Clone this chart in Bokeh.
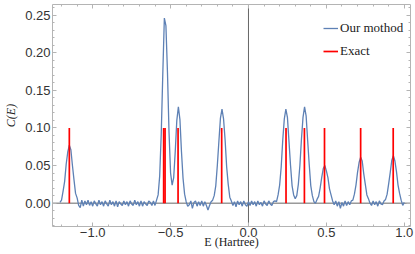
from bokeh.plotting import figure
from bokeh.models import (Range1d, LinearAxis, SingleIntervalTicker, CustomJSTickFormatter,
                          CustomLabelingPolicy, Span, Legend, LegendItem, ColumnDataSource)
from bokeh.embed import file_html
from bokeh.resources import INLINE

# ---- data ----
E_start = -1.21
E_step = 0.01
C_method = [
    0.001, 0.004, 0.016, 0.029, 0.052, 0.068, 0.077, 0.071, 0.050, 0.031,
    0.013, 0.007, -0.003, -0.006, 0.004, -0.004, 0.003, -0.002, 0.004, -0.003,
    0.002, -0.004, 0.003, -0.001, -0.004, 0.004, -0.002, 0.002, -0.004, 0.003,
    -0.001, -0.004, 0.004, -0.002, 0.002, -0.004, 0.003, -0.005, 0.002, -0.001,
    -0.003, 0.003, -0.002, 0.002, -0.004, 0.003, -0.001, -0.003, 0.004, -0.002,
    0.002, -0.004, 0.003, -0.004, 0.002, -0.001, -0.003, 0.003, 0.001, -0.003,
    0.003, -0.003, 0.004, 0.011, 0.036, 0.092, 0.172, 0.246, 0.236, 0.174,
    0.094, 0.040, 0.024, 0.034, 0.069, 0.110, 0.128, 0.111, 0.068, 0.033,
    0.012, 0.002, -0.004, -0.002, 0.003, -0.007, 0.001, 0.003, -0.004, 0.002,
    -0.003, 0.003, -0.004, 0.002, -0.003, -0.009, -0.003, 0.002, 0.004, 0.010,
    0.023, 0.050, 0.082, 0.113, 0.125, 0.112, 0.084, 0.048, 0.025, 0.008,
    0.003, -0.003, 0.002, -0.005, 0.003, -0.002, 0.002, -0.004, 0.003, -0.002,
    -0.004, 0.002, -0.003, 0.003, -0.002, 0.002, -0.004, 0.003, -0.002, 0.001,
    -0.004, 0.003, -0.001, -0.003, 0.003, -0.001, -0.003, 0.002, 0.003, 0.002,
    0.011, 0.024, 0.048, 0.084, 0.112, 0.125, 0.114, 0.082, 0.050, 0.023,
    0.011, 0.006, 0.010, 0.025, 0.050, 0.085, 0.114, 0.128, 0.116, 0.083,
    0.051, 0.023, 0.010, 0.002, 0.000, 0.005, 0.009, 0.020, 0.034, 0.046,
    0.050, 0.043, 0.034, 0.019, 0.011, 0.003, -0.002, 0.003, -0.004, 0.002,
    -0.007, 0.001, -0.004, 0.003, -0.003, 0.002, -0.002, 0.003, 0.004, 0.012,
    0.024, 0.041, 0.054, 0.061, 0.056, 0.039, 0.025, 0.011, 0.006, 0.000,
    -0.003, 0.003, -0.002, 0.002, -0.004, 0.003, -0.001, -0.002, 0.003, 0.005,
    0.012, 0.026, 0.041, 0.057, 0.063, 0.056, 0.042, 0.024, 0.013, 0.004,
    -0.003, 0.001,
]
E_method = [round(E_start + E_step * i, 2) for i in range(len(C_method))]

E_exact = [-1.15, -0.5445, -0.5355, -0.452, -0.172, 0.241, 0.359, 0.488, 0.72, 0.929]
C_exact = [0.1, 0.1, 0.1, 0.1, 0.1, 0.1, 0.1, 0.1, 0.1, 0.1]

X_MIN, X_MAX = -1.258, 1.04
Y_MIN, Y_MAX = -0.031, 0.264

# ---- styling ----
FRAME = "#b4b4b4"
LABEL = "#333333"
BLUE = "#5E81B5"
RED = "#FF0000"

p = figure(width=415, height=254, output_backend="svg", toolbar_location=None,
           x_range=Range1d(X_MIN, X_MAX), y_range=Range1d(Y_MIN, Y_MAX),
           x_axis_location=None, y_axis_location=None,
           min_border_left=52, min_border_right=0, min_border_top=0, min_border_bottom=28)
p.grid.visible = False
p.outline_line_color = None
p.background_fill_color = "white"
p.border_fill_color = "white"

xfmt = CustomJSTickFormatter(code="return tick.toFixed(1).replace('-', '\u2212');")
yfmt = CustomJSTickFormatter(code="var v = Math.abs(tick) < 1e-9 ? 0 : tick; return v.toFixed(2).replace('-', '\u2212');")
hide_all = CustomLabelingPolicy(code="for (const i of indices) indices.unset(i)")


def style(ax, show_labels):
    ax.axis_line_color = FRAME
    ax.axis_line_width = 1
    ax.major_tick_line_color = FRAME
    ax.minor_tick_line_color = FRAME
    ax.major_tick_in = 4
    ax.major_tick_out = 0
    ax.minor_tick_in = 2
    ax.minor_tick_out = 0
    if show_labels:
        ax.major_label_text_font = "Liberation Sans"
        ax.major_label_text_font_size = "13px"
        ax.major_label_text_color = LABEL
        ax.major_label_standoff = 2
    else:
        ax.major_label_policy = hide_all
        ax.major_label_text_font_size = "1px"
        ax.major_label_standoff = 0


bottom = LinearAxis(ticker=SingleIntervalTicker(interval=0.5, num_minor_ticks=5), formatter=xfmt)
style(bottom, True)
bottom.major_label_standoff = 1
bottom.axis_label = "E (Hartree)"
bottom.axis_label_text_font = "Liberation Serif"
bottom.axis_label_text_font_style = "normal"
bottom.axis_label_text_font_size = "12px"
bottom.axis_label_text_color = "#222222"
bottom.axis_label_standoff = -5
p.add_layout(bottom, "below")

left = LinearAxis(ticker=SingleIntervalTicker(interval=0.05, num_minor_ticks=5), formatter=yfmt)
style(left, True)
left.axis_label = "C(E)"
left.axis_label_text_font = "Liberation Serif"
left.axis_label_text_font_style = "italic"
left.axis_label_text_font_size = "12px"
left.axis_label_text_color = "#222222"
left.axis_label_standoff = 4
p.add_layout(left, "left")

top = LinearAxis(ticker=SingleIntervalTicker(interval=0.5, num_minor_ticks=5))
style(top, False)
p.add_layout(top, "above")

right = LinearAxis(ticker=SingleIntervalTicker(interval=0.05, num_minor_ticks=5))
style(right, False)
p.add_layout(right, "right")

# Mathematica-style zero axes
p.add_layout(Span(location=0, dimension="width", line_color="#666666", line_width=1, level="underlay"))
p.add_layout(Span(location=0, dimension="height", line_color="#666666", line_width=1, level="underlay"))

src_m = ColumnDataSource(dict(E=E_method, C=C_method))
r_method = p.line("E", "C", source=src_m, line_color=BLUE, line_width=1.3)

src_e = ColumnDataSource(dict(E=E_exact, C=C_exact, Z=[0.0] * len(E_exact)))
r_exact = p.segment(x0="E", y0="Z", x1="E", y1="C", source=src_e, line_color=RED, line_width=1.7)

legend = Legend(items=[LegendItem(label="Our mothod", renderers=[r_method]),
                       LegendItem(label="Exact", renderers=[r_exact])],
                location=(271, 165), border_line_color=None, background_fill_alpha=0,
                label_text_font="Liberation Serif", label_text_font_size="13px",
                label_text_color="#222222",
                glyph_width=15, glyph_height=20, label_height=20, spacing=3,
                padding=0, margin=0, label_standoff=2)
p.add_layout(legend)

open("out.html", "w").write(file_html(p, INLINE))
